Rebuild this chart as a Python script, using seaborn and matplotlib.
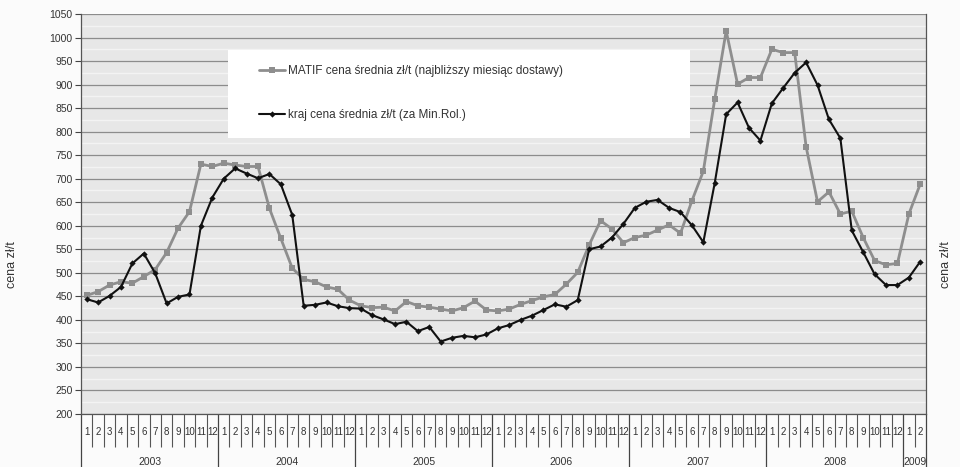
import matplotlib
matplotlib.use("Agg")
import matplotlib.pyplot as plt
from matplotlib.patches import Rectangle
from matplotlib.ticker import FixedLocator, MultipleLocator
import numpy as np
import pandas as pd
import seaborn as sns

# Monthly prices, Jan 2003 .. Feb 2009
years = ["2003", "2004", "2005", "2006", "2007", "2008", "2009"]
months_per_year = [12, 12, 12, 12, 12, 12, 2]

matif = [
    452, 460, 474, 481, 478, 492, 507, 543, 595, 630, 731, 726,
    733, 729, 726, 726, 637, 573, 510, 486, 481, 470, 465, 442,
    430, 426, 427, 419, 439, 430, 427, 423, 419, 426, 440, 421,
    419, 423, 433, 441, 449, 454, 476, 501, 559, 611, 593, 564,
    575, 580, 591, 602, 584, 653, 716, 869, 1014, 901, 915, 915,
    975, 968, 968, 768, 651, 672, 625, 631, 575, 526, 517, 520,
    625, 689,
]
kraj = [
    444, 437, 451, 470, 520, 541, 499, 435, 449, 454, 600, 660,
    700, 722, 711, 701, 710, 688, 623, 430, 432, 437, 429, 425,
    424, 410, 401, 391, 396, 376, 385, 354, 362, 366, 363, 369,
    382, 389, 400, 409, 421, 433, 428, 442, 550, 556, 575, 604,
    638, 651, 655, 638, 629, 601, 565, 691, 837, 862, 808, 781,
    860, 893, 925, 947, 899, 826, 786, 590, 544, 497, 474, 474,
    490, 524,
]
label_matif = "MATIF cena średnia zł/t (najbliższy miesiąc dostawy)"
label_kraj = "kraj cena średnia zł/t (za Min.Rol.)"
y_label = "cena zł/t"

month_labels = [str(m + 1) for n in months_per_year for m in range(n)]
n = len(month_labels)
x = np.arange(n)

df = pd.DataFrame({"idx": x, "matif": matif, "kraj": kraj})

sns.set_theme(style="white")
plt.rcParams["font.family"] = ["Liberation Sans", "DejaVu Sans"]

fig = plt.figure(figsize=(9.6, 4.67), dpi=100)
ax = fig.add_axes([81 / 960, 1 - 414 / 467, (926 - 81) / 960, (414 - 14) / 467])
ax.set_facecolor("#e7e7e7")
fig.patch.set_facecolor("#fbfbfb")

sns.lineplot(data=df, x="idx", y="matif", ax=ax, color="#8e8e8e", lw=2.0,
             marker="s", markersize=5, markeredgewidth=0, label=label_matif,
             zorder=3)
sns.lineplot(data=df, x="idx", y="kraj", ax=ax, color="#111111", lw=1.5,
             marker="D", markersize=3.2, markeredgewidth=0, label=label_kraj,
             zorder=4)

ax.set_xlim(-0.5, n - 0.5)
ax.set_ylim(200, 1050)
ax.yaxis.set_major_locator(MultipleLocator(50))
ax.yaxis.set_minor_locator(MultipleLocator(25))
ax.grid(axis="y", which="major", color="#8c8c8c", lw=0.9, zorder=1)
ax.grid(axis="y", which="minor", color="#f3f3f3", lw=1.0, zorder=1)
ax.grid(axis="x", visible=False)
ax.tick_params(axis="y", which="major", labelsize=7.5, length=4, width=0.8,
               color="#444444", labelcolor="#333333", pad=2, left=True)
ax.tick_params(axis="y", which="minor", length=0)
ax.set_ylabel("")
ax.set_xlabel("")

# Month boundaries as minor ticks, year boundaries as long major ticks
bounds = np.arange(n + 1) - 0.5
year_bounds = np.concatenate([[0], np.cumsum(months_per_year)]) - 0.5
ax.xaxis.set_major_locator(FixedLocator(year_bounds))
ax.xaxis.set_minor_locator(FixedLocator(bounds))
ax.set_xticklabels([])
ax.tick_params(axis="x", which="major", length=40, width=0.9,
               color="#444444", bottom=True)
ax.tick_params(axis="x", which="minor", length=24, width=0.8,
               color="#555555", bottom=True)

xt = ax.get_xaxis_transform()
for i, lab in enumerate(month_labels):
    ax.text(i, -0.045, lab, transform=xt, ha="center", va="center",
            fontsize=7, color="#333333")
start = 0
for yr, cnt in zip(years, months_per_year):
    ax.text(start + (cnt - 1) / 2, -0.12, yr, transform=xt, ha="center",
            va="center", fontsize=7.5, color="#333333")
    start += cnt

for side in ["left", "bottom", "right"]:
    ax.spines[side].set_color("#555555")
    ax.spines[side].set_linewidth(0.9)
ax.spines["top"].set_visible(False)

# Legend panel
ax.add_patch(Rectangle((0.174, 0.69), 0.547, 0.22, transform=ax.transAxes,
                       facecolor="white", edgecolor="none", zorder=2))
leg = ax.legend(loc="upper left", bbox_to_anchor=(0.195, 0.905),
                frameon=False, fontsize=8.5, handlelength=2.2,
                labelspacing=2.7, handletextpad=0.3, borderpad=0.6)
for t in leg.get_texts():
    t.set_color("#333333")
leg.set_zorder(5)

fig.text(12 / 960, 1 - 265 / 467, y_label, rotation=90, ha="center",
         va="center", fontsize=9, color="#333333")
fig.text(946 / 960, 1 - 265 / 467, y_label, rotation=90, ha="center",
         va="center", fontsize=9, color="#333333")

fig.savefig("out.png", dpi=100)
